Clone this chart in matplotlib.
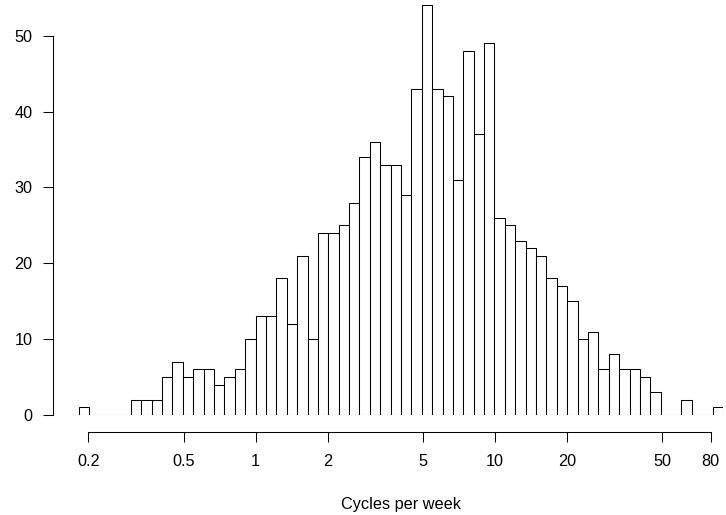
import numpy as np
import matplotlib
matplotlib.use("Agg")
import matplotlib.pyplot as plt
from matplotlib.ticker import FixedLocator, NullLocator

# histogram counts, bins of 0.1 on the natural-log scale starting at log(x) = -1.7
counts = [1, 0, 0, 0, 0, 2, 2, 2, 5, 7, 5, 6, 6, 4, 5, 6,
          10, 13, 13, 18, 12, 21, 10, 24, 24, 25, 28, 34, 36, 33, 33, 29,
          43, 54, 43, 42, 31, 48, 37, 49, 26, 25, 23, 22, 21, 18, 17, 15,
          10, 11, 6, 8, 6, 6, 5, 3, 0, 0, 2, 0, 0, 1]
log_start = -1.7
log_step = 0.1

xticks = [0.2, 0.5, 1, 2, 5, 10, 20, 50, 80]
xtick_labels = ["0.2", "0.5", "1", "2", "5", "10", "20", "50", "80"]
yticks = [0, 10, 20, 30, 40, 50]

plt.rcParams["font.family"] = ["Liberation Sans", "DejaVu Sans"]

W, H = 726, 515
fig = plt.figure(figsize=(W / 100, H / 100), dpi=100)
# plot area in pixels: bars span 79..723, y=0 sits at 415
left, right, bottom, top = 79, 723, 415, 0
ax = fig.add_axes([left / W, (H - bottom) / H, (right - left) / W, (bottom - top) / H])

edges = np.exp(log_start + log_step * np.arange(len(counts) + 1))
counts = np.array(counts)
ax.bar(edges[:-1], counts, width=np.diff(edges), align="edge",
       color="white", edgecolor="black", linewidth=0.75)
# empty bins still leave a flat line on the baseline
empty = counts == 0
ax.hlines(np.zeros(empty.sum()), edges[:-1][empty], edges[1:][empty],
          color="#777777", linewidth=0.75)

ax.set_xscale("log")
ax.set_xlim(edges[0], edges[-1])
ax.set_ylim(0, 415 / 7.586)

for s in ["top", "right"]:
    ax.spines[s].set_visible(False)
ax.spines["left"].set_position(("outward", 26 * 0.72))
ax.spines["bottom"].set_position(("outward", 17 * 0.72))
ax.spines["left"].set_bounds(0, 50)
ax.spines["bottom"].set_bounds(xticks[0], xticks[-1])
for s in ["left", "bottom"]:
    ax.spines[s].set_linewidth(0.75)

ax.xaxis.set_major_locator(FixedLocator(xticks))
ax.xaxis.set_minor_locator(NullLocator())
ax.set_xticklabels(xtick_labels)
ax.set_yticks(yticks)
ax.tick_params(axis="both", length=7.2, width=0.75, labelsize=11.7, color="black")
ax.tick_params(axis="x", pad=9)
ax.tick_params(axis="y", pad=7.5)

fig.text((left + right) / 2 / W, 1 - 505 / H, "Cycles per week",
         ha="center", va="center", fontsize=11.7)

fig.savefig("out.png", dpi=100)
